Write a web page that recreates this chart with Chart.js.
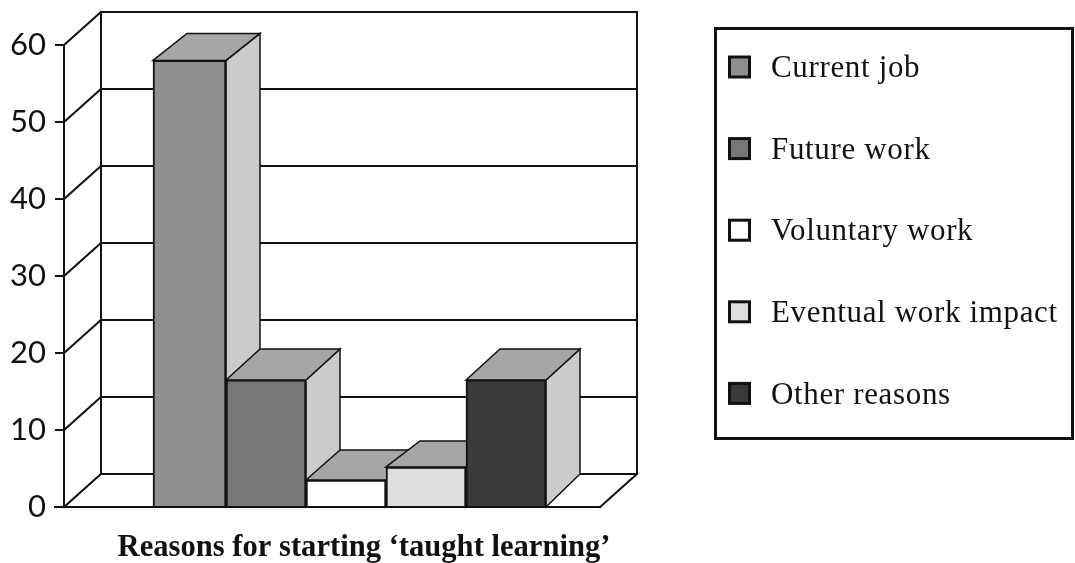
<!DOCTYPE html>
<html>
<head>
<meta charset="utf-8">
<title>Reasons for starting taught learning</title>
<script src="https://cdn.jsdelivr.net/npm/chart.js@4"></script>
<style>
  html, body { margin: 0; padding: 0; background: #fff; }
  canvas { display: block; }
</style>
</head>
<body>
<canvas id="chart_reasons" width="1075" height="563"></canvas>
<script>
var categories = ['Reasons for starting \u2018taught learning\u2019'];
var seriesNames = ['Current job', 'Future work', 'Voluntary work', 'Eventual work impact', 'Other reasons'];
var seriesValues = [58, 16.5, 3.5, 5.2, 16.5];
var seriesColors = ['#8f8f8f', '#777777', '#ffffff', '#dedede', '#3a3a3a'];

var ink = '#111111';
var topColor = '#a6a6a6';
var sideColor = '#cbcbcb';
var wallDx = 37, wallDy = 33;     // how far the back wall sits behind the axis
var floorOverhang = 28;           // chart area runs past the front of the floor
var barDx = 34;
var barDy = [27, 31, 30, 26, 31]; // bar depth is not quite even in the source
var firstBarTrim = 7;             // first bar is narrower than the others

function poly(ctx, pts, fill, width) {
    ctx.beginPath();
    pts.forEach(function(p, i) {
        if (i == 0) ctx.moveTo(p[0], p[1]); else ctx.lineTo(p[0], p[1]);
    });
    ctx.closePath();
    if (fill) { ctx.fillStyle = fill; ctx.fill(); }
    ctx.lineWidth = width;
    ctx.strokeStyle = ink;
    ctx.stroke();
}

function line(ctx, x1, y1, x2, y2) {
    ctx.beginPath();
    ctx.moveTo(x1, y1);
    ctx.lineTo(x2, y2);
    ctx.stroke();
}

var box3d = {
    id: 'box3d',
    afterDatasetsUpdate: function(chart) {
        var first = chart.getDatasetMeta(0).data[0];
        first.width -= firstBarTrim;
        first.x += firstBarTrim / 2;
    },
    beforeDatasetsDraw: function(chart) {
        var ctx = chart.ctx, y = chart.scales.y, area = chart.chartArea;
        var left = area.left, front = area.right - floorOverhang;
        var zero = y.getPixelForValue(0);
        ctx.save();
        ctx.lineCap = 'square';
        ctx.lineWidth = 2;
        ctx.strokeStyle = ink;

        // walls and floor
        y.ticks.forEach(function(t) {
            var py = y.getPixelForValue(t.value);
            line(ctx, left, py, left + wallDx, py - wallDy);
            line(ctx, left + wallDx, py - wallDy, front + wallDx, py - wallDy);
        });
        line(ctx, left + wallDx, y.getPixelForValue(60) - wallDy, left + wallDx, zero - wallDy);
        line(ctx, front + wallDx, y.getPixelForValue(60) - wallDy, front + wallDx, zero - wallDy);
        line(ctx, front + wallDx, zero - wallDy, front, zero);
        line(ctx, left - 9, zero, front, zero);

        // depth faces, left to right so each one covers the one before
        chart.data.datasets.forEach(function(ds, i) {
            var bar = chart.getDatasetMeta(i).data[0];
            var x1 = bar.x - bar.width / 2, x2 = bar.x + bar.width / 2;
            var dy = barDy[i];
            poly(ctx, [[x2, zero], [x2 + barDx, zero - wallDy], [x2 + barDx, bar.y - dy], [x2, bar.y]], sideColor, 1.5);
            poly(ctx, [[x1, bar.y], [x1 + barDx, bar.y - dy], [x2 + barDx, bar.y - dy], [x2, bar.y]], topColor, 1.5);
        });
        ctx.restore();
    },
    afterDraw: function(chart) {
        // legend box, labels come from the datasets
        var ctx = chart.ctx;
        ctx.save();
        ctx.lineWidth = 3;
        ctx.strokeStyle = ink;
        ctx.strokeRect(715.5, 28.5, 357, 410);
        ctx.font = '31px "Liberation Serif"';
        ctx.letterSpacing = '0.65px';
        ctx.textBaseline = 'middle';
        chart.data.datasets.forEach(function(ds, i) {
            var cy = 67 + i * 81.6;
            ctx.fillStyle = ds.backgroundColor;
            ctx.fillRect(729.5, cy - 10, 20, 20);
            ctx.strokeRect(729.5, cy - 10, 20, 20);
            ctx.fillStyle = ink;
            ctx.fillText(ds.label, 771, cy + 2);
        });
        ctx.restore();
    }
};

var ctx = document.getElementById('chart_reasons');

var chartBars = new Chart(ctx, {
    type: 'bar',
    data: {
        labels: categories,
        datasets: seriesNames.map(function(name, i) {
            return {
                label: name,
                data: [seriesValues[i]],
                backgroundColor: seriesColors[i],
                borderColor: ink,
                borderWidth: 2,
                barThickness: 80
            };
        })
    },
    options: {
        responsive: false,
        animation: false,
        layout: { padding: { top: 45, right: 447 } },
        plugins: {
            legend: { display: false },
            tooltip: { enabled: false }
        },
        scales: {
            x: {
                grid: { display: false },
                border: { display: false },
                afterFit: function(scale) { scale.height = 56; },
                ticks: {
                    color: ink,
                    padding: 15,
                    labelOffset: 18,
                    maxRotation: 0,
                    minRotation: 0,
                    font: { family: '"Liberation Serif"', size: 30.6, weight: 'bold' }
                }
            },
            y: {
                min: 0,
                max: 60,
                afterFit: function(scale) { scale.width = 64; },
                border: { display: true, color: ink, width: 2 },
                grid: { drawOnChartArea: false, color: ink, lineWidth: 2, tickLength: 9 },
                ticks: {
                    stepSize: 10,
                    color: ink,
                    padding: 9,
                    font: { family: 'Lato', size: 31, weight: '400' }
                }
            }
        }
    },
    plugins: [box3d]
});
</script>
</body>
</html>
